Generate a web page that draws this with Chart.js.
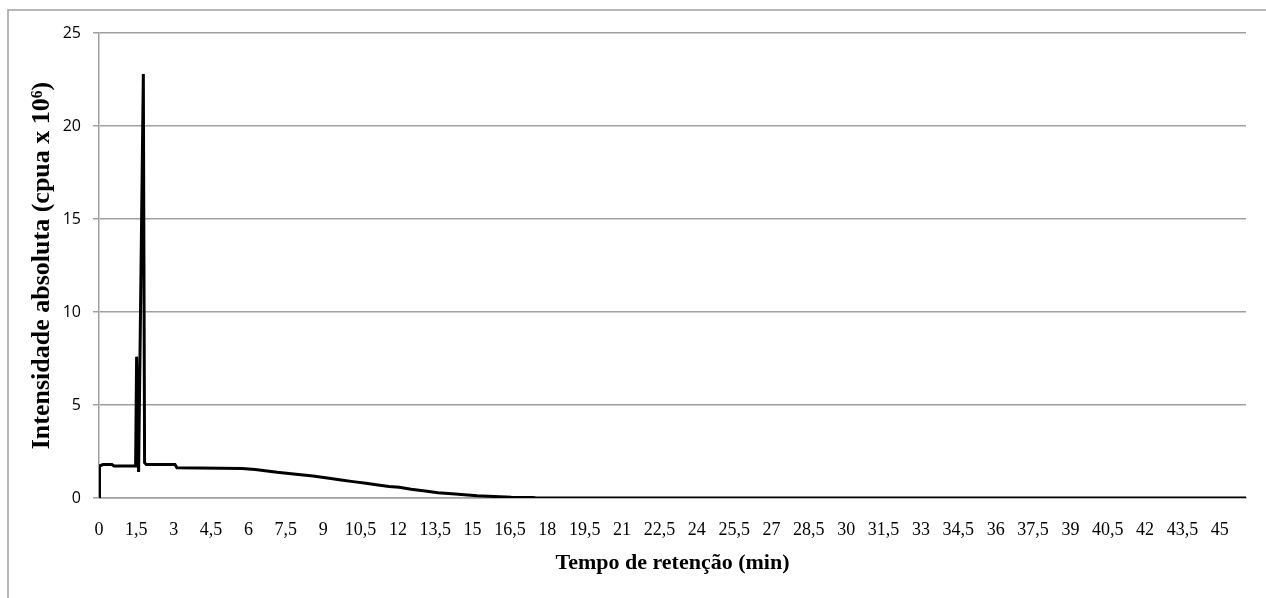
<!DOCTYPE html>
<html>
<head>
<meta charset="utf-8">
<script src="https://cdn.jsdelivr.net/npm/chart.js@4.4.1/dist/chart.umd.min.js"></script>
<style>
  html, body { margin: 0; padding: 0; background: #fff; }
  canvas { display: block; }
</style>
</head>
<body>
<canvas id="chrom" width="1266" height="598"></canvas>
<script>
// chromatogram trace: retention time (min) vs absolute intensity (cpua x 10^6)
const retentionTime = [0, 0.02, 0.16, 0.52, 0.6, 1.47, 1.51, 1.59, 1.78, 1.83, 1.9, 3.05, 3.13, 5.74,
  6.27, 7.15, 7.91, 8.59, 9.24, 9.72, 10.2, 10.72, 11.2, 11.65, 12.05, 12.53, 13.09, 13.61, 14.3,
  15.18, 16.55, 17.43, 17.55, 46.05];
const intensity = [0, 1.72, 1.8, 1.8, 1.72, 1.72, 7.6, 1.4, 22.8, 1.9, 1.8, 1.8, 1.62, 1.58,
  1.53, 1.38, 1.28, 1.18, 1.06, 0.97, 0.88, 0.79, 0.70, 0.62, 0.58, 0.47, 0.38, 0.28, 0.22,
  0.12, 0.04, 0.03, 0, 0];

const xTicks = [0, 1.5, 3, 4.5, 6, 7.5, 9, 10.5, 12, 13.5, 15, 16.5, 18, 19.5, 21, 22.5, 24, 25.5,
  27, 28.5, 30, 31.5, 33, 34.5, 36, 37.5, 39, 40.5, 42, 43.5, 45];
const yTicks = [0, 5, 10, 15, 20, 25];

const xTitle = 'Tempo de retenção (min)';
const yTitle = 'Intensidade absoluta (cpua x 10⁶)';

const gridGray = '#a0a0a0';

// thin frame along the top and left edge of the figure
const frame = {
  id: 'frame',
  beforeDraw(chart) {
    const ctx = chart.ctx;
    ctx.save();
    ctx.strokeStyle = gridGray;
    ctx.lineWidth = 1.5;
    ctx.beginPath();
    ctx.moveTo(8, chart.height);
    ctx.lineTo(8, 10);
    ctx.lineTo(chart.width, 10);
    ctx.stroke();
    ctx.restore();
  }
};

const points = retentionTime.map((t, i) => ({ x: t, y: intensity[i] }));

new Chart(document.getElementById('chrom'), {
  type: 'line',
  data: {
    datasets: [{
      data: points,
      borderColor: '#000',
      borderWidth: 3,
      pointRadius: 0,
      tension: 0,
      fill: false
    }]
  },
  options: {
    responsive: false,
    animation: false,
    layout: { padding: { top: 33, right: 20, left: 0, bottom: 0 } },
    plugins: { legend: { display: false }, tooltip: { enabled: false } },
    scales: {
      x: {
        type: 'linear',
        min: 0,
        max: 46.05,
        afterBuildTicks: (s) => { s.ticks = xTicks.map(v => ({ value: v })); },
        afterFit: (s) => { s.height = 100; },
        grid: { display: false },
        border: { display: true, color: gridGray, width: 1.5 },
        ticks: {
          autoSkip: false,
          maxRotation: 0,
          padding: 13,
          color: '#000',
          font: { family: 'Liberation Serif', size: 18 },
          callback: (v) => String(v).replace('.', ',')
        },
        title: {
          display: true,
          text: xTitle,
          color: '#000',
          font: { family: 'Liberation Serif', size: 22, weight: 'bold' },
          padding: { top: 0, bottom: 21 }
        }
      },
      y: {
        min: 0,
        max: 25,
        afterBuildTicks: (s) => { s.ticks = yTicks.map(v => ({ value: v })); },
        afterFit: (s) => { s.width = 99; },
        grid: { color: gridGray, lineWidth: 1.5, tickLength: 6 },
        border: { display: true, color: gridGray, width: 1.5 },
        ticks: {
          padding: 12,
          color: '#000',
          font: { family: 'Open Sans', size: 16 }
        },
        title: {
          display: true,
          text: yTitle,
          color: '#000',
          font: { family: 'Liberation Serif', size: 26, weight: 'bold' },
          padding: { top: 27, bottom: 0 }
        }
      }
    }
  },
  plugins: [frame]
});
</script>
</body>
</html>
